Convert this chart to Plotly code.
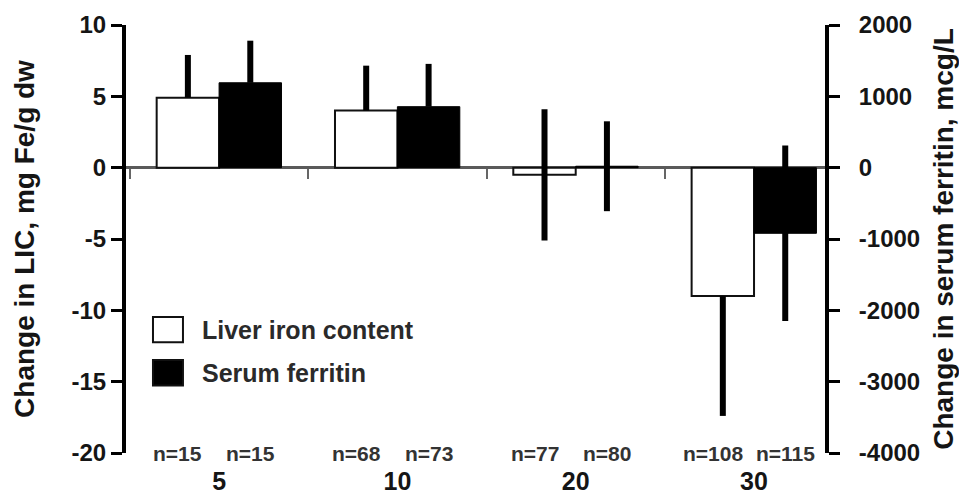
import plotly.graph_objects as go

# ---------------- data ----------------
doses = ["5", "10", "20", "30"]
lic_mean = [4.9, 4.0, -0.5, -9.0]        # mg Fe/g dw
lic_sd = [3.0, 3.15, 4.6, 8.4]
lic_n = [15, 68, 77, 108]
fer_mean = [1190, 855, 20, -920]          # mcg/L
fer_sd = [590, 600, 630, 1230]
fer_n = [15, 73, 80, 115]

left_ticks = [-20, -15, -10, -5, 0, 5, 10]
right_ticks = [-4000, -3000, -2000, -1000, 0, 1000, 2000]

# ---------------- style ----------------
FONT = "Liberation Sans, Arial, sans-serif"
TXT = "#151515"
BAR_W = 0.35
LEFT_RANGE = [-20, 10]
RIGHT_RANGE = [-4000, 2000]
X_RANGE = [-0.522, 3.398]


def outward(vals, sds):
    """Error bars are drawn behind the bars in the original: only the part
    outside the bar is visible."""
    up, down = [], []
    for v, e in zip(vals, sds):
        up.append(e if (v >= 0 or e > -v) else 0)
        down.append(e if (v <= 0 or e > v) else 0)
    return up, down


lic_up, lic_dn = outward(lic_mean, lic_sd)
fer_up, fer_dn = outward(fer_mean, fer_sd)

fig = go.Figure()
fig.add_trace(go.Bar(
    x=doses, y=lic_mean, name="Liver iron content",
    offset=-BAR_W, width=BAR_W,
    marker=dict(color="white", line=dict(color="#111", width=2)),
    error_y=dict(type="data", symmetric=False, array=lic_up, arrayminus=lic_dn,
                 color="black", thickness=6, width=0),
    yaxis="y", showlegend=False,
))
fig.add_trace(go.Bar(
    x=doses, y=fer_mean, name="Serum ferritin",
    offset=0, width=BAR_W,
    marker=dict(color="black", line=dict(color="black", width=1)),
    error_y=dict(type="data", symmetric=False, array=fer_up, arrayminus=fer_dn,
                 color="black", thickness=6, width=0),
    yaxis="y2", showlegend=False,
))

zero_pos = (0 - LEFT_RANGE[0]) / (LEFT_RANGE[1] - LEFT_RANGE[0])

annotations = []
for i, (a, b) in enumerate(zip(lic_n, fer_n)):
    for n, off, shift in ((a, -BAR_W / 2, -10), (b, BAR_W / 2, 0)):
        annotations.append(dict(
            x=i + off, xref="x", xshift=shift, y=0, yref="paper", yanchor="middle",
            text=f"n={n}", showarrow=False,
            font=dict(family=FONT, size=21, color="#333", weight="bold"),
        ))

# custom legend (large swatches like the original)
leg = [("Liver iron content", "white", 0.318), ("Serum ferritin", "black", 0.217)]
shapes = []
for label, col, ytop in leg:
    shapes.append(dict(type="rect", xref="paper", yref="paper",
                       x0=0.0386, x1=0.0815, y0=ytop - 0.059, y1=ytop,
                       fillcolor=col, line=dict(color="#111", width=2)))
    annotations.append(dict(x=0.106, xref="paper", y=ytop - 0.031, yref="paper",
                            xanchor="left", yanchor="middle", text=label,
                            showarrow=False,
                            font=dict(family=FONT, size=25, color="#2a2a2a", weight="bold")))

axis_font = dict(family=FONT, size=24, color=TXT, weight="bold")
title_font = dict(family=FONT, size=28, color=TXT, weight="bold")

# the page body has an 8px margin, so the figure is drawn 8px smaller
fig.update_layout(
    width=959, height=488,
    margin=dict(l=118, r=142, t=17, b=43, autoexpand=False),
    paper_bgcolor="white", plot_bgcolor="white",
    barmode="overlay",
    xaxis=dict(
        type="category", categoryorder="array", categoryarray=doses,
        range=X_RANGE, anchor="free", position=zero_pos, automargin=False,
        showline=False, showgrid=False, zeroline=False,
        ticks="outside", tickson="boundaries", ticklen=10, tickwidth=2,
        tickcolor="#666",
        tickfont=dict(family=FONT, size=25, color=TXT, weight="bold"),
        ticklabelstandoff=296,
    ),
    yaxis=dict(
        range=LEFT_RANGE, tickmode="array", tickvals=left_ticks,
        ticktext=[str(t) for t in left_ticks], automargin=False,
        showline=True, linecolor="black", linewidth=4,
        ticks="outside", ticklen=11, tickwidth=3, tickcolor="black",
        tickfont=axis_font, showgrid=False,
        zeroline=True, zerolinecolor="#5a5a5a", zerolinewidth=3,
        title=dict(text="Change in LIC, mg Fe/g dw", font=title_font, standoff=30),
    ),
    yaxis2=dict(
        range=RIGHT_RANGE, tickmode="array", tickvals=right_ticks,
        ticktext=[str(t) for t in right_ticks], automargin=False,
        overlaying="y", side="right", anchor="x",
        showline=True, linecolor="black", linewidth=4,
        ticks="outside", ticklen=11, tickwidth=3, tickcolor="black",
        tickfont=axis_font, showgrid=False, zeroline=False,
        ticklabelstandoff=14,
        title=dict(text="Change in serum ferritin, mcg/L", font=title_font, standoff=15),
    ),
    annotations=annotations,
    shapes=shapes,
)

fig.write_html("out.html")
